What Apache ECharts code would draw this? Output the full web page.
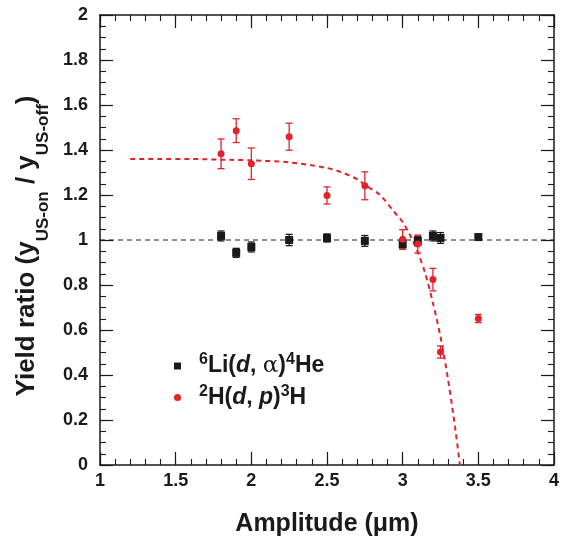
<!DOCTYPE html>
<html>
<head>
<meta charset="utf-8">
<script src="https://cdn.jsdelivr.net/npm/echarts@6/dist/echarts.min.js"></script>
<style>html,body{margin:0;padding:0;background:#fff}#c{width:568px;height:542px}</style>
</head>
<body>
<div id="c"></div>
<script>
// ---- data ----
const liX   = [1.8, 1.9, 2.0, 2.25, 2.5, 2.75, 3.0, 3.1, 3.2, 3.25, 3.5];
const liY   = [1.018, 0.943, 0.969, 1.000, 1.009, 0.996, 0.982, 0.996, 1.018, 1.009, 1.013];
const liErr = [0.022, 0.020, 0.022, 0.025, 0.018, 0.024, 0.022, 0.020, 0.022, 0.024, 0.013];

const hX   = [1.8, 1.9, 2.0, 2.25, 2.5, 2.75, 3.0, 3.1, 3.2, 3.25, 3.5];
const hY   = [1.383, 1.486, 1.339, 1.459, 1.198, 1.241, 1.003, 0.982, 0.824, 0.502, 0.651];
const hErr = [0.066, 0.053, 0.070, 0.060, 0.038, 0.062, 0.043, 0.040, 0.050, 0.027, 0.018];

// fit curve
const fitX = [1.2, 1.4, 1.6, 1.8, 2.0, 2.25, 2.5, 2.6, 2.7, 2.75, 2.85, 2.95, 3.0, 3.05, 3.1, 3.15, 3.2, 3.25, 3.3, 3.35, 3.378];
const fitY = [1.36, 1.36, 1.36, 1.357, 1.354, 1.345, 1.32, 1.30, 1.27, 1.245, 1.20, 1.12, 1.08, 1.02, 0.945, 0.85, 0.72, 0.57, 0.38, 0.15, 0.0];

const refX = [1, 4];
const refY = [1, 1];

const xTicks = [1, 1.5, 2, 2.5, 3, 3.5, 4];
const yTicks = [0, 0.2, 0.4, 0.6, 0.8, 1, 1.2, 1.4, 1.6, 1.8, 2];
const xMinorStep = 0.1;
const yMinorStep = 0.05;

const liName = 'Li';
const hName = 'H';

// ---- chart ----
const BLACK = '#1a1a1a';
const RED = '#e3232b';
const FONT = '"Liberation Sans", Arial, Helvetica, sans-serif';

const zip = (a, b, c) => a.map((v, i) => c ? [v, b[i], c[i]] : [v, b[i]]);

function errBar(color) {
  return function (params, api) {
    const x = api.value(0), y = api.value(1), e = api.value(2);
    const top = api.coord([x, y + e]);
    const bot = api.coord([x, y - e]);
    const w = 3.5;
    const st = { stroke: color, lineWidth: 1.3 };
    return {
      type: 'group',
      children: [
        { type: 'line', shape: { x1: top[0], y1: top[1], x2: bot[0], y2: bot[1] }, style: st },
        { type: 'line', shape: { x1: top[0] - w, y1: top[1], x2: top[0] + w, y2: top[1] }, style: st },
        { type: 'line', shape: { x1: bot[0] - w, y1: bot[1], x2: bot[0] + w, y2: bot[1] }, style: st }
      ]
    };
  };
}

const xMin = xTicks[0], xMax = xTicks[xTicks.length - 1];
const yMin = yTicks[0], yMax = yTicks[yTicks.length - 1];

function majorAxis(pos, min, max, interval, extra) {
  return Object.assign({
    type: 'value', min: min, max: max, interval: interval, position: pos,
    axisLine: { show: true, onZero: false, lineStyle: { color: BLACK, width: 1.5 } },
    axisTick: { show: true, inside: true, length: 13, lineStyle: { color: BLACK, width: 1.2 } },
    axisLabel: { show: false },
    splitLine: { show: false }
  }, extra || {});
}
function minorAxis(pos, min, max, interval) {
  return {
    type: 'value', min: min, max: max, interval: interval, position: pos,
    axisLine: { show: false, onZero: false },
    axisTick: { show: true, inside: true, length: 6, lineStyle: { color: BLACK, width: 1.1 } },
    axisLabel: { show: false },
    splitLine: { show: false },
    silent: true
  };
}

const chart = echarts.init(document.getElementById('c'), null, { renderer: 'canvas' });
chart.setOption({
  backgroundColor: '#fff',
  animation: false,
  grid: { left: 100, right: 14, top: 15, bottom: 73, containLabel: false },
  xAxis: [
    majorAxis('bottom', xMin, xMax, 0.5, {
      axisLabel: { show: true, color: BLACK, fontFamily: FONT, fontWeight: 'bold', fontSize: 18, margin: 7, showMinLabel: true, showMaxLabel: true },
      name: 'Amplitude (\u03bcm)', nameLocation: 'middle', nameGap: 47,
      nameTextStyle: { color: BLACK, fontFamily: FONT, fontWeight: 'bold', fontSize: 25 }
    }),
    majorAxis('top', xMin, xMax, 0.5),
    minorAxis('bottom', xMin, xMax, xMinorStep),
    minorAxis('top', xMin, xMax, xMinorStep)
  ],
  yAxis: [
    majorAxis('left', yMin, yMax, 0.2, {
      axisLabel: { show: true, color: BLACK, fontFamily: FONT, fontWeight: 'bold', fontSize: 18, margin: 12, showMinLabel: true, showMaxLabel: true },
      name: '{m|Yield ratio (y}{s|US-on}{m| / y}{s|US-off}{e|)}',
      nameLocation: 'middle', nameGap: 47, nameRotate: 90,
      nameTextStyle: {
        color: BLACK, fontFamily: FONT, fontWeight: 'bold', fontSize: 26,
        rich: {
          m: { color: BLACK, fontFamily: FONT, fontWeight: 'bold', fontSize: 26, lineHeight: 50, verticalAlign: 'middle' },
          e: { color: BLACK, fontFamily: FONT, fontWeight: 'bold', fontSize: 26, lineHeight: 50, verticalAlign: 'middle', padding: [0, 12, 0, 0] },
          s: { color: BLACK, fontFamily: FONT, fontWeight: 'bold', fontSize: 17, lineHeight: 17, verticalAlign: 'bottom' }
        }
      }
    }),
    majorAxis('right', yMin, yMax, 0.2),
    minorAxis('left', yMin, yMax, yMinorStep),
    minorAxis('right', yMin, yMax, yMinorStep)
  ],
  legend: {
    orient: 'vertical', left: 169, top: 347, itemGap: 6,
    itemWidth: 7, itemHeight: 7,
    data: [
      { name: liName, icon: 'rect' },
      { name: hName, icon: 'circle' }
    ],
    formatter: function (n) {
      if (n === liName) return '{sup|6}{b|Li(}{i|d}{b|, }{g|\u03b1}{b|)}{sup2|4}{b|He}';
      return '{sup|2}{b|H(}{i|d}{b|, }{i|p}{b|)}{sup2|3}{b|H}';
    },
    textStyle: {
      color: BLACK, fontFamily: FONT, fontWeight: 'bold', fontSize: 23,
      rich: {
        b: { color: BLACK, fontFamily: FONT, fontWeight: 'bold', fontSize: 23, lineHeight: 28 },
        i: { color: BLACK, fontFamily: FONT, fontWeight: 'bold', fontStyle: 'italic', fontSize: 23, lineHeight: 28 },
        g: { color: BLACK, fontFamily: '"DejaVu Serif", serif', fontWeight: 'normal', fontSize: 23, lineHeight: 28 },
        sup: { color: BLACK, fontFamily: FONT, fontWeight: 'bold', fontSize: 16, lineHeight: 15, verticalAlign: 'top', padding: [0, 0, 0, 13] },
        sup2: { color: BLACK, fontFamily: FONT, fontWeight: 'bold', fontSize: 16, lineHeight: 15, verticalAlign: 'top' }
      }
    }
  },
  series: [
    {
      type: 'line', xAxisIndex: 0, yAxisIndex: 0, data: zip(refX, refY),
      symbol: 'none', silent: true, z: 1,
      lineStyle: { color: BLACK, width: 1, type: [5, 4] }
    },
    {
      type: 'line', xAxisIndex: 0, yAxisIndex: 0, data: zip(fitX, fitY),
      symbol: 'none', smooth: 0.3, silent: true, z: 2,
      lineStyle: { color: RED, width: 2, type: [5, 4] }
    },
    {
      type: 'custom', xAxisIndex: 0, yAxisIndex: 0, data: zip(liX, liY, liErr),
      renderItem: errBar(BLACK), z: 3, silent: true
    },
    {
      type: 'custom', xAxisIndex: 0, yAxisIndex: 0, data: zip(hX, hY, hErr),
      renderItem: errBar(RED), z: 3, silent: true
    },
    {
      name: liName, type: 'scatter', xAxisIndex: 0, yAxisIndex: 0, data: zip(liX, liY),
      symbol: 'rect', symbolSize: 8, itemStyle: { color: BLACK, opacity: 1 }, z: 4
    },
    {
      name: hName, type: 'scatter', xAxisIndex: 0, yAxisIndex: 0, data: zip(hX, hY),
      symbol: 'circle', symbolSize: 7, itemStyle: { color: RED, opacity: 1 }, z: 4
    }
  ]
});
</script>
</body>
</html>
